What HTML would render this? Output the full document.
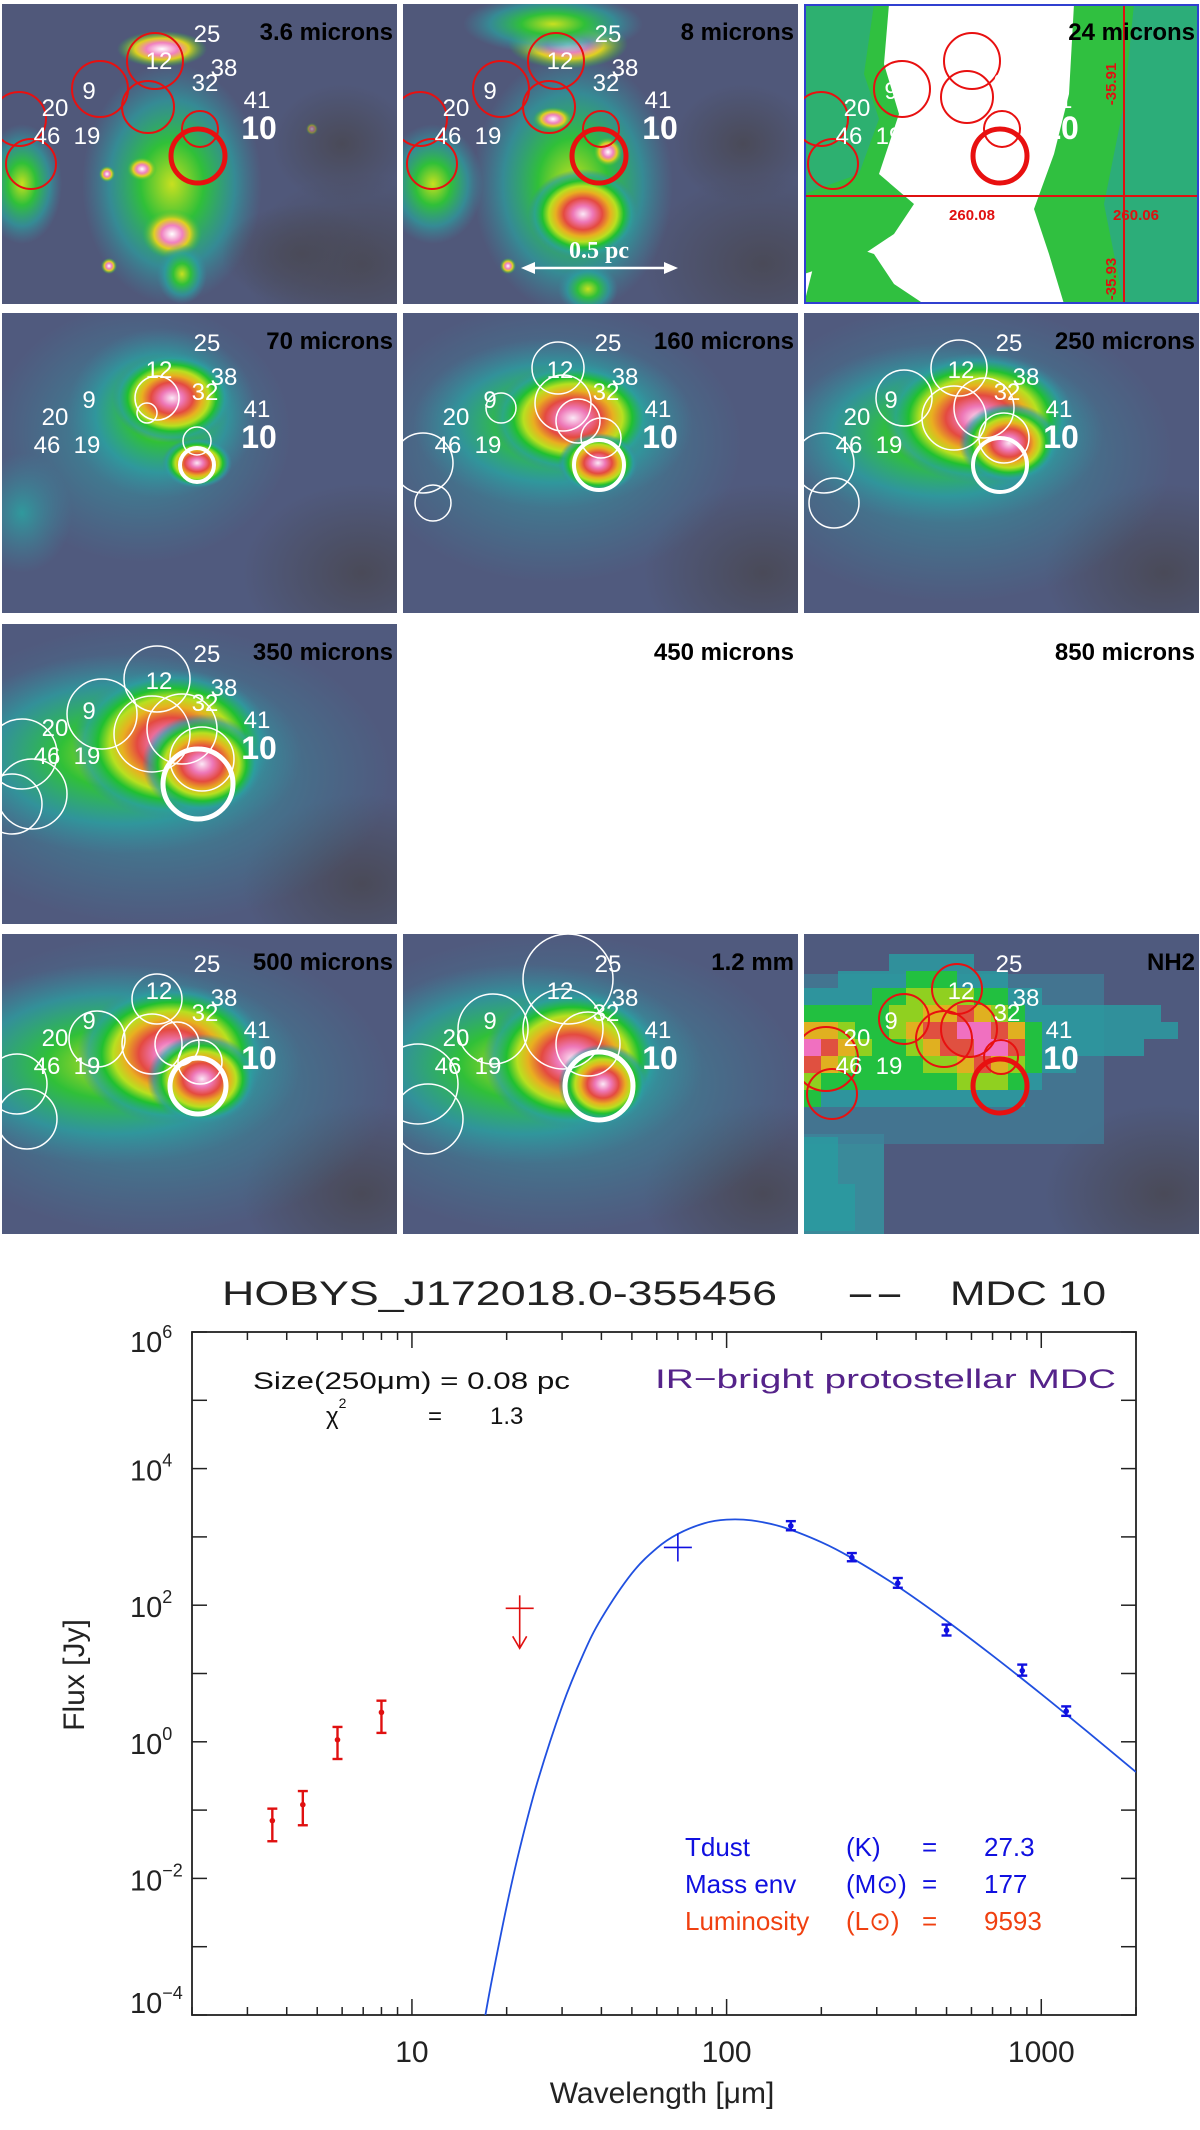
<!DOCTYPE html>
<html><head><meta charset="utf-8"><style>
html,body{margin:0;padding:0;background:#fff;}
body{width:1200px;height:2130px;position:relative;overflow:hidden;font-family:"Liberation Sans",sans-serif;}
svg{position:absolute;left:0;top:0;}
</style></head><body>
<svg id="maps" width="1200" height="1240" viewBox="0 0 1200 1240">
<defs>
<radialGradient id="hot"><stop offset="0" stop-color="#fbe8f6"/><stop offset="0.18" stop-color="#ee78b8"/><stop offset="0.35" stop-color="#e44a40"/><stop offset="0.5" stop-color="#e8b020"/><stop offset="0.62" stop-color="#b8e020"/><stop offset="0.74" stop-color="#20c030"/><stop offset="0.88" stop-color="#2aa0a0" stop-opacity="0.7"/><stop offset="1" stop-color="#3a8aa0" stop-opacity="0"/></radialGradient>
<radialGradient id="warm"><stop offset="0" stop-color="#c8e020"/><stop offset="0.35" stop-color="#30c038"/><stop offset="0.7" stop-color="#2aa0a0" stop-opacity="0.7"/><stop offset="1" stop-color="#3a8aa0" stop-opacity="0"/></radialGradient>
<radialGradient id="cool"><stop offset="0" stop-color="#2ca0a0" stop-opacity="0.9"/><stop offset="1" stop-color="#3a8aa0" stop-opacity="0"/></radialGradient>
<radialGradient id="star"><stop offset="0" stop-color="#ffffff"/><stop offset="0.35" stop-color="#f080c0"/><stop offset="0.6" stop-color="#e0d020"/><stop offset="1" stop-color="#20c040" stop-opacity="0"/></radialGradient>
<radialGradient id="dark"><stop offset="0" stop-color="#4a4a58"/><stop offset="1" stop-color="#4a4a58" stop-opacity="0"/></radialGradient>
</defs>
</svg>
<svg id="chart" width="1200" height="2130" viewBox="0 0 1200 2130" style="pointer-events:none"></svg>
<script>
// ---------- SED chart data ----------
const redWl = [3.6, 4.5, 5.8, 8];
const redFlux = [0.07, 0.12, 1.07, 2.7];
const redLo = [0.035, 0.06, 0.56, 1.35];
const redHi = [0.105, 0.19, 1.65, 4.0];
const limitWl = [22];
const limitFlux = [90];
const crossWl = [70];
const crossFlux = [700];
const blueWl = [160, 250, 350, 500, 870, 1200];
const blueFlux = [1450, 500, 210, 43, 11, 2.8];
const blueLo = [1250, 440, 180, 36, 9.3, 2.4];
const blueHi = [1700, 580, 250, 52, 13.5, 3.3];
const modelWl = [17, 18, 20, 22, 25, 30, 35, 40, 50, 60, 70, 85, 100, 120, 150, 200, 250, 350, 500, 700, 1000, 1400, 2000];
const modelFlux = [8.4e-5, 3.5e-4, 3.9e-3, 0.027, 0.25, 3.3, 19, 64, 293, 684, 1105, 1585, 1790, 1743, 1400, 836, 490, 188, 59, 18.3, 5.0, 1.41, 0.36];
const yTickExp = [6, 4, 2, 0, -2, -4];
const xTickLabels = [10, 100, 1000];

const NS = "http://www.w3.org/2000/svg";
function mk(parent, tag, attrs, txt) {
  const e = document.createElementNS(NS, tag);
  for (const k in attrs) e.setAttribute(k, attrs[k]);
  if (txt !== undefined) e.textContent = txt;
  parent.appendChild(e);
  return e;
}
const PL = 192, PR = 1136, PT = 1332, PB = 2015;
const X0 = Math.log10(2), X1 = Math.log10(2000), Y0 = -4, Y1 = 6;
const xs = v => PL + (Math.log10(v) - X0) / (X1 - X0) * (PR - PL);
const ys = v => PB - (Math.log10(v) - Y0) / (Y1 - Y0) * (PB - PT);

const C = document.getElementById('chart');
const title = mk(C, 'text', {x: 222, y: 1305, 'font-size': 34, fill: '#222'});


mk(title, 'tspan', {x: 222, textLength: 555, lengthAdjust: 'spacingAndGlyphs'}, 'HOBYS_J172018.0-355456');
mk(title, 'tspan', {x: 846, textLength: 58, lengthAdjust: 'spacingAndGlyphs'}, '--');
mk(title, 'tspan', {x: 950, textLength: 156, lengthAdjust: 'spacingAndGlyphs'}, 'MDC 10');
const frame = mk(C, 'rect', {x: PL, y: PT, width: PR - PL, height: PB - PT, fill: 'none', stroke: '#222', 'stroke-width': 1.8});



// x ticks
for (let d = 0; d <= 3; d++) {
  for (let m = 1; m <= 9; m++) {
    const v = m * Math.pow(10, d);
    if (v < 2 || v > 2000) continue;
    const x = xs(v), len = (m === 1) ? 16 : 8;
    const t1 = mk(C, 'line', {x1: x, x2: x, y1: PB, y2: PB - len, stroke: '#222', 'stroke-width': 1.5});
    
    
    const t2 = mk(C, 'line', {x1: x, x2: x, y1: PT, y2: PT + len, stroke: '#222', 'stroke-width': 1.5});
    
    
  }
}
xTickLabels.forEach(v => {
  const t = mk(C, 'text', {x: xs(v), y: 2062, 'font-size': 30, 'text-anchor': 'middle', fill: '#222'}, String(v));
  
  
});
for (let e = -4; e <= 6; e++) {
  const y = ys(Math.pow(10, e));
  const a = mk(C, 'line', {x1: PL, x2: PL + 15, y1: y, y2: y, stroke: '#222', 'stroke-width': 1.5});
  
  
  const b = mk(C, 'line', {x1: PR, x2: PR - 15, y1: y, y2: y, stroke: '#222', 'stroke-width': 1.5});
  
  
}
yTickExp.forEach(e => {
  const y = ys(Math.pow(10, e));
  const by = e === 6 ? y + 20 : (e === -4 ? y - 2 : y + 12);
  const t = mk(C, 'text', {x: 130, y: by, 'font-size': 29, fill: '#222'});
  
  
  mk(t, 'tspan', {}, '10');
  mk(t, 'tspan', {dy: -14, 'font-size': 18}, String(e).replace('-', '\u2212'));
});
const xt = mk(C, 'text', {x: 662, y: 2103, 'font-size': 30, 'text-anchor': 'middle', fill: '#222'}, 'Wavelength [\u03bcm]');


const yt = mk(C, 'text', {x: 0, y: 0, 'font-size': 30, 'text-anchor': 'middle', fill: '#222', transform: 'translate(84,1675) rotate(-90)'}, 'Flux [Jy]');



const a1 = mk(C, 'text', {x: 253, y: 1389, 'font-size': 24, fill: '#111', textLength: 317, lengthAdjust: 'spacingAndGlyphs'}, 'Size(250\u03bcm) = 0.08 pc');


const a2 = mk(C, 'text', {x: 326, y: 1424, 'font-size': 24, fill: '#111'});


mk(a2, 'tspan', {}, '\u03c7');
mk(a2, 'tspan', {dy: -16, 'font-size': 14}, '2');
mk(a2, 'tspan', {x: 428, y: 1424}, '=');
mk(a2, 'tspan', {x: 490, y: 1424}, '1.3');
const a3 = mk(C, 'text', {x: 655, y: 1388, 'font-size': 27, fill: '#55238a', textLength: 461, lengthAdjust: 'spacingAndGlyphs'}, 'IR\u2212bright protostellar MDC');


const params = [['Tdust', '(K)', '27.3', '#1010e0', 1856], ['Mass env', '(M\u2299)', '177', '#1010e0', 1893], ['Luminosity', '(L\u2299)', '9593', '#f04010', 1930]];
params.forEach(p => {
  const t = mk(C, 'text', {x: 685, y: p[4], 'font-size': 26, fill: p[3]});
  
  
  mk(t, 'tspan', {}, p[0]);
  mk(t, 'tspan', {x: 846, y: p[4]}, p[1]);
  mk(t, 'tspan', {x: 922, y: p[4]}, '=');
  mk(t, 'tspan', {x: 984, y: p[4]}, p[2]);
});

const pts = modelWl.map((w, i) => [xs(w), ys(modelFlux[i])]);
let d = 'M' + pts[0][0] + ',' + pts[0][1];
for (let i = 0; i < pts.length - 1; i++) {
  const p0 = pts[i - 1] || pts[i], p1 = pts[i], p2 = pts[i + 1], p3 = pts[i + 2] || p2;
  const c1 = [p1[0] + (p2[0] - p0[0]) / 6, p1[1] + (p2[1] - p0[1]) / 6];
  const c2 = [p2[0] - (p3[0] - p1[0]) / 6, p2[1] - (p3[1] - p1[1]) / 6];
  d += ' C' + c1[0] + ',' + c1[1] + ' ' + c2[0] + ',' + c2[1] + ' ' + p2[0] + ',' + p2[1];
}
mk(C, 'clipPath', {id: 'pclip'}).appendChild(document.createElementNS(NS, 'rect'));
const cr = document.querySelector('#pclip rect');
cr.setAttribute('x', PL); cr.setAttribute('y', PT); cr.setAttribute('width', PR - PL); cr.setAttribute('height', PB - PT);
const curve = mk(C, 'path', {d: d, fill: 'none', stroke: '#2050e0', 'stroke-width': 1.8, 'clip-path': 'url(#pclip)'});



function errPoint(w, f, lo, hi, col, name) {
  const g = mk(C, 'g', {stroke: col, fill: col, 'stroke-width': 2.4});
  
  
  const x = xs(w);
  mk(g, 'line', {x1: x, x2: x, y1: ys(lo), y2: ys(hi)});
  mk(g, 'line', {x1: x - 5, x2: x + 5, y1: ys(lo), y2: ys(lo)});
  mk(g, 'line', {x1: x - 5, x2: x + 5, y1: ys(hi), y2: ys(hi)});
  mk(g, 'circle', {cx: x, cy: ys(f), r: 2.8, stroke: 'none'});
}
redWl.forEach((w, i) => errPoint(w, redFlux[i], redLo[i], redHi[i], '#e01010', 'red-data-point'));
blueWl.forEach((w, i) => errPoint(w, blueFlux[i], blueLo[i], blueHi[i], '#1010e0', 'blue-data-point'));
limitWl.forEach((w, i) => {
  const g = mk(C, 'g', {stroke: '#e01010', fill: 'none', 'stroke-width': 1.6});
  
  
  const x = xs(w), y = ys(limitFlux[i]);
  mk(g, 'line', {x1: x - 14, x2: x + 14, y1: y, y2: y});
  mk(g, 'line', {x1: x, x2: x, y1: y - 13, y2: y + 40});
  mk(g, 'polyline', {points: (x - 7) + ',' + (y + 28) + ' ' + x + ',' + (y + 40) + ' ' + (x + 7) + ',' + (y + 28)});
});
crossWl.forEach((w, i) => {
  const g = mk(C, 'g', {stroke: '#1010e0', 'stroke-width': 1.6});
  
  
  const x = xs(w), y = ys(crossFlux[i]);
  mk(g, 'line', {x1: x - 14, x2: x + 14, y1: y, y2: y});
  mk(g, 'line', {x1: x, x2: x, y1: y - 14, y2: y + 14});
});

// ---------- map panels ----------
const M = document.getElementById('maps');
const colX = [2, 403, 804], rowY = [4, 313, 624, 934], PW = 395, PH = 300;
const labels = [['20', 53, 112, 24], ['46', 45, 140, 24], ['19', 85, 140, 24], ['9', 87, 95, 24], ['12', 157, 65, 24], ['25', 205, 38, 24], ['38', 222, 72, 24], ['32', 203, 87, 24], ['41', 255, 104, 24], ['10', 257, 135, 32]];
const red = '#e81010', wht = '#ffffff';
const panels = [
 {t: '3.6 microns', bg: '#50587a', blobs: [['warm', 170, 180, 90, 120], ['star', 160, 45, 45, 18], ['warm', 20, 180, 40, 60], ['star', 170, 230, 30, 25], ['warm', 180, 270, 25, 30], ['star', 140, 165, 15, 12], ['star', 105, 170, 8, 8], ['star', 107, 262, 8, 8], ['star', 310, 125, 6, 6], ['dark', 340, 140, 70, 60], ['dark', 300, 250, 80, 50]],
  circ: [[17, 115, 27, red, 2], [29, 160, 25, red, 2], [98, 85, 28, red, 2], [153, 57, 28, red, 2], [146, 103, 26, red, 2], [198, 125, 18, red, 2], [196, 152, 27, red, 5]]},
 {t: '8 microns', bg: '#50587a', blobs: [['warm', 170, 180, 100, 130], ['star', 165, 40, 60, 25], ['warm', 150, 20, 90, 30], ['hot', 180, 210, 55, 45], ['warm', 30, 180, 50, 60], ['star', 150, 115, 20, 12], ['star', 205, 148, 15, 15], ['star', 105, 262, 8, 8], ['warm', 185, 285, 30, 25], ['dark', 340, 140, 70, 60]],
  circ: [[17, 115, 27, red, 2], [29, 160, 25, red, 2], [98, 85, 28, red, 2], [153, 57, 28, red, 2], [146, 103, 26, red, 2], [198, 125, 18, red, 2], [196, 152, 27, red, 5]]},
 {t: '24 microns', bg: '#ffffff', blobs: [], circ: [[17, 115, 27, red, 2], [29, 160, 25, red, 2], [98, 85, 28, red, 2], [168, 57, 28, red, 2], [163, 93, 26, red, 2], [198, 125, 18, red, 2], [196, 152, 27, red, 5]], p24: true},
 {t: '70 microns', bg: '#505a7e', blobs: [['cool', 140, 120, 150, 130], ['warm', 160, 100, 95, 85], ['hot', 170, 85, 60, 45], ['hot', 195, 150, 35, 25], ['cool', 20, 200, 50, 60]],
  circ: [[145, 100, 10, wht, 1.5], [155, 85, 22, wht, 1.5], [195, 128, 14, wht, 1.5], [195, 152, 17, wht, 4]]},
 {t: '160 microns', bg: '#505a7e', blobs: [['cool', 150, 130, 190, 140], ['warm', 150, 110, 140, 85], ['hot', 170, 105, 80, 55], ['hot', 195, 150, 40, 30]],
  circ: [[20, 150, 30, wht, 1.5], [30, 190, 18, wht, 1.5], [98, 95, 15, wht, 1.5], [155, 55, 26, wht, 1.5], [160, 90, 28, wht, 1.5], [175, 108, 22, wht, 1.5], [198, 125, 20, wht, 1.5], [196, 152, 25, wht, 4]]},
 {t: '250 microns', bg: '#505a7e', blobs: [['cool', 150, 140, 220, 150], ['warm', 140, 120, 160, 90], ['hot', 175, 105, 95, 65], ['hot', 205, 130, 50, 40]],
  circ: [[20, 150, 30, wht, 1.5], [30, 190, 25, wht, 1.5], [100, 85, 28, wht, 1.5], [155, 55, 28, wht, 1.5], [150, 105, 32, wht, 1.5], [180, 95, 30, wht, 1.5], [200, 125, 25, wht, 1.5], [196, 152, 27, wht, 4]]},
 {t: '350 microns', bg: '#505a7e', blobs: [['cool', 150, 150, 240, 150], ['warm', 120, 130, 180, 100], ['hot', 170, 120, 100, 75], ['hot', 200, 140, 60, 50]],
  circ: [[20, 130, 35, wht, 1.5], [30, 170, 35, wht, 1.5], [10, 180, 30, wht, 1.5], [100, 90, 35, wht, 1.5], [155, 55, 33, wht, 1.5], [150, 110, 38, wht, 1.5], [180, 105, 35, wht, 1.5], [200, 135, 32, wht, 1.5], [196, 160, 35, wht, 5]]},
 {t: '450 microns', bg: '#ffffff', blobs: [], circ: [], nolab: true},
 {t: '850 microns', bg: '#ffffff', blobs: [], circ: [], nolab: true},
 {t: '500 microns', bg: '#505a7e', blobs: [['cool', 150, 150, 240, 150], ['warm', 110, 130, 190, 100], ['hot', 170, 120, 95, 70], ['hot', 200, 145, 55, 45]],
  circ: [[15, 150, 30, wht, 1.5], [25, 185, 30, wht, 1.5], [95, 105, 28, wht, 1.5], [155, 65, 25, wht, 1.5], [150, 110, 30, wht, 1.5], [175, 110, 22, wht, 1.5], [198, 128, 22, wht, 1.5], [196, 152, 28, wht, 5]]},
 {t: '1.2 mm', bg: '#505a7e', blobs: [['cool', 150, 150, 250, 150], ['warm', 120, 130, 180, 100], ['hot', 170, 125, 90, 70], ['hot', 200, 150, 45, 40]],
  circ: [[15, 150, 40, wht, 1.5], [25, 185, 35, wht, 1.5], [90, 95, 35, wht, 1.5], [165, 45, 45, wht, 1.5], [160, 95, 40, wht, 1.5], [185, 110, 32, wht, 1.5], [196, 152, 34, wht, 5]]},
 {t: 'NH2', bg: '#4f5a7e', blobs: [], circ: [[22, 125, 32, red, 2], [28, 160, 25, red, 2], [100, 85, 25, red, 2], [153, 55, 25, red, 2], [140, 105, 28, red, 2], [165, 95, 28, red, 2], [197, 123, 17, red, 2], [196, 152, 27, red, 5]], nh2: true}
];
panels.forEach((p, i) => {
  const px = colX[i % 3], py = rowY[Math.floor(i / 3)];
  const g = mk(M, 'g', {transform: 'translate(' + px + ',' + py + ')'});
  
  
  mk(g, 'clipPath', {id: 'cl' + i}).appendChild(document.createElementNS(NS, 'rect'));
  const r = g.querySelector('#cl' + i + ' rect');
  r.setAttribute('width', PW); r.setAttribute('height', PH);
  const inner = mk(g, 'g', {'clip-path': 'url(#cl' + i + ')'});
  mk(inner, 'rect', {width: PW, height: PH, fill: p.bg});
  if (p.bg !== '#ffffff') mk(inner, 'ellipse', {cx: 360, cy: 260, rx: 120, ry: 90, fill: 'url(#dark)'});
  p.blobs.forEach(b => mk(inner, 'ellipse', {cx: b[1], cy: b[2], rx: b[3], ry: b[4], fill: 'url(#' + b[0] + ')'}));
  if (p.p24) {
    mk(inner, 'path', {d: 'M0,0 L85,0 L80,60 L95,110 L75,170 L110,200 L90,230 L60,250 L0,270 Z', fill: '#30c040'});
    mk(inner, 'path', {d: 'M0,0 L70,0 L60,70 L75,115 L55,170 L0,190 Z', fill: '#2aa0a0', opacity: 0.5});
    mk(inner, 'path', {d: 'M270,0 L395,0 L395,300 L260,300 L245,250 L230,205 L250,150 L265,90 Z', fill: '#30c040'});
    mk(inner, 'path', {d: 'M330,0 L395,0 L395,300 L320,300 L300,200 L320,100 Z', fill: '#2aa0a0', opacity: 0.6});
    mk(inner, 'path', {d: 'M0,300 L10,260 L40,240 L70,250 L90,280 L120,300 Z', fill: '#30c040'});
    mk(inner, 'line', {x1: 0, x2: PW, y1: 192, y2: 192, stroke: '#e01010', 'stroke-width': 2});
    mk(inner, 'line', {x1: 320, x2: 320, y1: 0, y2: PH, stroke: '#e01010', 'stroke-width': 2});
    mk(inner, 'text', {x: 168, y: 216, 'font-size': 15, fill: '#e01010', 'text-anchor': 'middle', 'font-weight': 'bold'}, '260.08');
    mk(inner, 'text', {x: 332, y: 216, 'font-size': 15, fill: '#e01010', 'text-anchor': 'middle', 'font-weight': 'bold'}, '260.06');
    mk(inner, 'text', {x: 0, y: 0, 'font-size': 15, fill: '#e01010', 'font-weight': 'bold', 'text-anchor': 'middle', transform: 'translate(312,80) rotate(-90)'}, '-35.91');
    mk(inner, 'text', {x: 0, y: 0, 'font-size': 15, fill: '#e01010', 'font-weight': 'bold', 'text-anchor': 'middle', transform: 'translate(312,275) rotate(-90)'}, '-35.93');
    mk(inner, 'rect', {x: 1, y: 1, width: PW - 2, height: PH - 2, fill: 'none', stroke: '#3040d0', 'stroke-width': 2});
  }
  if (p.nh2) {
    mk(inner, 'rect', {x: 0, y: 200, width: 80, height: 100, fill: '#3a8a9a'});
    mk(inner, 'rect', {x: 0, y: 40, width: 300, height: 170, fill: '#3f7f98', opacity: 0.7});
    const cols = ['#4a7898', '#2a9aa0', '#22c040', '#90d020', '#e0b020', '#e05040', '#f070c0'];
    const grid = [
      [0,0,0,0,0,1,1,1,1,1,0,0,0,0,0,0,0,0,0,0,0,0],
      [0,0,1,1,1,1,2,2,2,1,1,1,0,0,0,0,0,0,0,0,0,0],
      [1,1,1,1,2,2,3,3,3,3,2,2,1,1,0,0,0,0,0,0,0,0],
      [2,2,2,2,2,3,3,4,4,5,4,3,2,1,1,1,1,1,1,1,1,0],
      [4,4,3,2,2,3,4,5,5,6,6,5,4,2,1,1,1,1,1,1,1,1],
      [6,5,4,3,2,2,3,4,5,5,6,6,5,2,1,1,1,1,1,1,0,0],
      [5,4,3,2,2,2,2,3,3,4,5,4,3,2,1,1,0,0,0,0,0,0],
      [3,2,2,2,2,2,2,2,2,3,3,3,2,1,0,0,0,0,0,0,0,0],
      [2,1,1,1,1,1,1,1,1,1,1,1,1,0,0,0,0,0,0,0,0,0],
      [1,1,0,0,0,0,0,0,0,0,0,0,0,0,0,0,0,0,0,0,0,0],
      [1,1,1,0,0,0,0,0,0,0,0,0,0,0,0,0,0,0,0,0,0,0]];
    grid.forEach((row, ri) => row.forEach((v, ci) => {
      if (v > 0) mk(inner, 'rect', {x: ci * 17, y: 20 + ri * 17 + (ri > 8 ? (ri - 8) * 30 : 0), width: 17, height: ri > 8 ? 47 : 17, fill: cols[v], opacity: v === 1 ? 0.85 : 1});
    }));
  }
  if (i === 1) {
    const sb = mk(inner, 'g', {stroke: '#fff', 'stroke-width': 2.5, fill: '#fff'});
    mk(sb, 'line', {x1: 122, x2: 271, y1: 264, y2: 264});
    mk(sb, 'polygon', {points: '118,264 132,258 132,270', stroke: 'none'});
    mk(sb, 'polygon', {points: '275,264 261,258 261,270', stroke: 'none'});
    const st = mk(inner, 'text', {x: 196, y: 254, 'font-size': 24, 'font-weight': 'bold', fill: '#fff', 'text-anchor': 'middle', 'font-family': 'Liberation Serif, serif'}, '0.5 pc');
    
    
  }
  p.circ.forEach(c => mk(inner, 'circle', {cx: c[0], cy: c[1], r: c[2], fill: 'none', stroke: c[3], 'stroke-width': c[4]}));
  if (!p.nolab) labels.forEach(l => {
    const lt = mk(inner, 'text', {x: l[1], y: l[2], 'font-size': l[3], fill: '#fff', 'text-anchor': 'middle', 'font-weight': l[0] === '10' ? 'bold' : 'normal'}, l[0]);
    
    
  });
  const tt = mk(inner, 'text', {x: PW - 4, y: 36, 'font-size': 24, 'font-weight': 'bold', fill: '#000', 'text-anchor': 'end'}, p.t);
  
  
});
</script>
</body></html>
